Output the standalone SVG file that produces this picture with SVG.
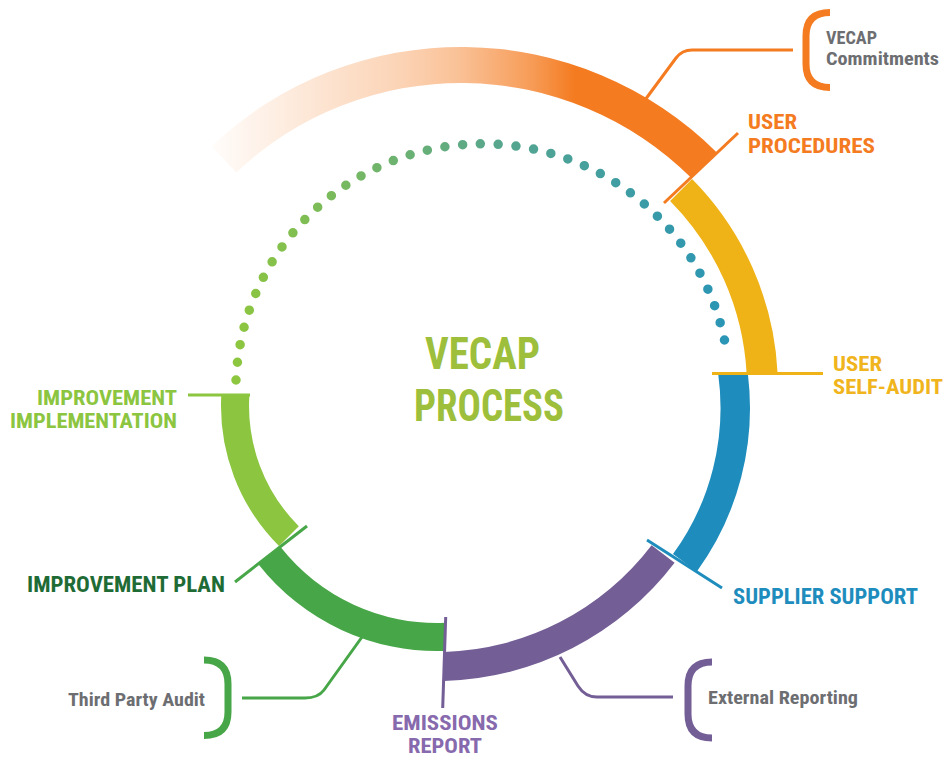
<svg xmlns="http://www.w3.org/2000/svg" width="944" height="758" viewBox="0 0 944 758">
<defs>
<linearGradient id="og" gradientUnits="userSpaceOnUse" x1="212" y1="0" x2="575" y2="0">
<stop offset="0" stop-color="#F47B20" stop-opacity="0.02"/>
<stop offset="0.13" stop-color="#F47B20" stop-opacity="0.1"/>
<stop offset="0.33" stop-color="#F47B20" stop-opacity="0.22"/>
<stop offset="0.52" stop-color="#F47B20" stop-opacity="0.33"/>
<stop offset="0.68" stop-color="#F47B20" stop-opacity="0.47"/>
<stop offset="0.88" stop-color="#F47B20" stop-opacity="0.75"/>
<stop offset="1" stop-color="#F47B20" stop-opacity="1"/>
</linearGradient>
<linearGradient id="dg" gradientUnits="userSpaceOnUse" x1="236" y1="0" x2="727" y2="0">
<stop offset="0" stop-color="#8DC63F"/>
<stop offset="0.5" stop-color="#5BA88A"/>
<stop offset="1" stop-color="#2A95B5"/>
</linearGradient>
<style>
.t{font-family:"Roboto Condensed","Liberation Sans Narrow","Liberation Sans",Arial,sans-serif;font-weight:700}
.g{fill:#6D6E71}
.tick{fill:none;stroke-width:3}
.lead{fill:none;stroke-width:3;stroke-linejoin:round}
.br{fill:none;stroke-width:7}
</style>
</defs>
<rect width="944" height="758" fill="#FFFFFF"/>

<g id="cycle-dots">
<path d="M236,380 A247,247 0 0 1 727,354" fill="none" stroke="url(#dg)" stroke-width="9.5" stroke-linecap="round" stroke-dasharray="0 17.84"/>
</g>

<g id="user-procedures">
<path d="M211.6,146.2 A363,363 0 0 1 716.8,152.4 L691.4,178 A327,327 0 0 0 236.3,172.4 Z" fill="url(#og)"/>
<text class="t" font-size="21" fill="#F47B20"><tspan x="748" y="129" textLength="49" lengthAdjust="spacingAndGlyphs">USER</tspan><tspan x="748" y="152.5" textLength="127" lengthAdjust="spacingAndGlyphs">PROCEDURES</tspan></text>
</g>

<g id="user-self-audit">
<path d="M692.1,179.1 A297,297 0 0 1 777.6,373.3 L746.6,373.3 A266,266 0 0 0 670.1,200.9 Z" fill="#EFB217"/>
<text class="t" font-size="21" fill="#F0B41C"><tspan x="833" y="370.5" textLength="49" lengthAdjust="spacingAndGlyphs">USER</tspan><tspan x="833" y="394" textLength="110" lengthAdjust="spacingAndGlyphs">SELF-AUDIT</tspan></text>
</g>

<g id="supplier-support">
<path d="M747.9,374 A278,278 0 0 1 696.9,571.4 L673,554.1 A248.5,248.5 0 0 0 718.2,374 Z" fill="#1E8DBD"/>
<text class="t" x="733" y="603.5" font-size="22" fill="#1E8DBD" textLength="185" lengthAdjust="spacingAndGlyphs">SUPPLIER SUPPORT</text>
</g>

<g id="emissions-report">
<path d="M674.6,562.8 A300,300 0 0 1 444,680.9 L444,651.9 A271,271 0 0 0 651.6,545.2 Z" fill="#735E96"/>
<text class="t" font-size="21" fill="#8769AD"><tspan x="392" y="729.5" textLength="106" lengthAdjust="spacingAndGlyphs">EMISSIONS</tspan><tspan x="408" y="753" textLength="74" lengthAdjust="spacingAndGlyphs">REPORT</tspan></text>
</g>

<g id="improvement-plan">
<path d="M445,650.9 A227,227 0 0 1 258.6,564.4 L280.6,547.1 A199,199 0 0 0 445,622.8 Z" fill="#47A647"/>
<text class="t" x="27" y="591.5" font-size="22" fill="#1F6B36" textLength="198" lengthAdjust="spacingAndGlyphs">IMPROVEMENT PLAN</text>
</g>

<g id="improvement-implementation">
<path d="M221.3,395 A198,198 0 0 0 279,546 L298.8,526.2 A170,170 0 0 1 249.4,395 Z" fill="#8CC53F"/>
<text class="t" font-size="21" fill="#8CC53F"><tspan x="37" y="404.5" textLength="140" lengthAdjust="spacingAndGlyphs">IMPROVEMENT</tspan><tspan x="10" y="428" textLength="167" lengthAdjust="spacingAndGlyphs">IMPLEMENTATION</tspan></text>
</g>

<g id="vecap-process">
<text class="t" font-size="45" fill="#9DBF3C"><tspan x="425" y="369" textLength="115" lengthAdjust="spacingAndGlyphs">VECAP</tspan><tspan x="414" y="421" textLength="150" lengthAdjust="spacingAndGlyphs">PROCESS</tspan></text>
</g>

<g id="vecap-commitments">
<path class="br" d="M830,12.5 Q806,12.5 806,36 L806,64 Q806,87.5 830,87.5" stroke="#F47B20"/>
<text class="t g" font-size="18.5"><tspan x="826" y="44" textLength="51" lengthAdjust="spacingAndGlyphs">VECAP</tspan><tspan x="826" y="65" textLength="113" lengthAdjust="spacingAndGlyphs">Commitments</tspan></text>
</g>

<g id="external-reporting">
<path class="br" d="M712,662 Q688,662 688,686 L688,714 Q688,738 712,738" stroke="#735E96"/>
<text class="t g" x="708" y="703.5" font-size="18" textLength="150" lengthAdjust="spacingAndGlyphs">External Reporting</text>
</g>

<g id="third-party-audit">
<path class="br" d="M204,660 Q228,660 228,684 L228,712 Q228,735.5 204,735.5" stroke="#47A647"/>
<text class="t g" x="68" y="706" font-size="18.5" textLength="137" lengthAdjust="spacingAndGlyphs">Third Party Audit</text>
</g>

<g id="connectors">
<path class="tick" d="M664,203 L738,133" stroke="#F47B20"/>
<path class="lead" d="M645,100 L676,58 Q682,50 692,50 L793,50" stroke="#F47B20"/>
<path class="tick" d="M712,373.5 L823,373.5" stroke="#EFB217"/>
<path class="tick" d="M647,540 L722,588" stroke="#1E8DBD"/>
<path class="tick" d="M445.7,617 L442.7,708" stroke="#735E96"/>
<path class="lead" d="M560,657 L578,686 Q585,697 597,697 L673,697" stroke="#735E96"/>
<path class="tick" d="M307,526 L235,582" stroke="#47A647"/>
<path class="lead" d="M362,637 L324,690 Q318,698 305,698 L242,698" stroke="#47A647"/>
<path class="tick" d="M188,395 L250,395" stroke="#8CC53F"/>
</g>
</svg>
